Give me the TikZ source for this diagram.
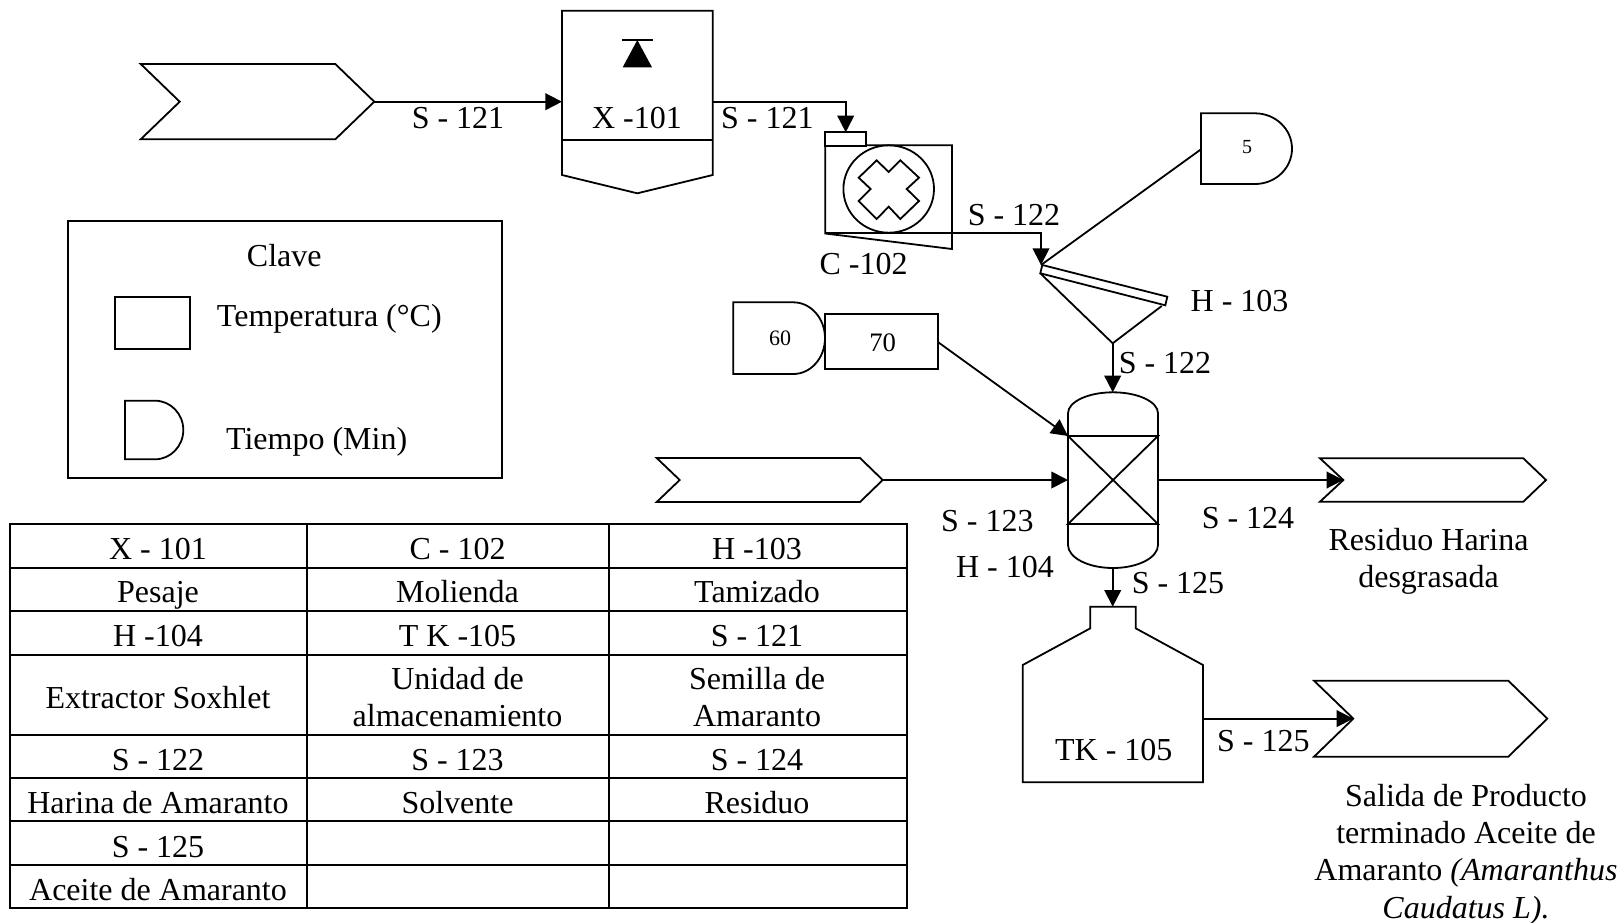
\documentclass[tikz,border=0pt]{standalone}
\usepackage{fontspec}
\setmainfont{Liberation Serif}
\usetikzlibrary{arrows.meta}
\tikzset{
  equip/.style={draw=black,line width=1.35pt,line join=miter,fill=white},
  thin equip/.style={draw=black,line width=1.35pt},
  feedline/.style={draw=black,line width=1.35pt},
  flow/.style={draw=black,line width=1.35pt,-{Triangle[length=12.5pt,width=12.5pt]},shorten >=0pt},
  lab/.style={inner sep=0pt,outer sep=0pt,anchor=base,font=\fontsize{24}{27.75}\selectfont,align=center},
  small/.style={inner sep=0pt,outer sep=0pt,anchor=base},
  grid line/.style={draw=black,line width=1.6pt},
}
\begin{document}
\begin{tikzpicture}[x=0.75pt,y=-0.75pt]
\useasboundingbox (0,0) rectangle (1624,922);

% ---- named ports
\coordinate (feedAtip) at (374.3,101.7);
\coordinate (xIn) at (562,101.7);
\coordinate (xOut) at (712.7,101.7);
\coordinate (millIn) at (845.7,132.3);
\coordinate (millOut) at (952,233.3);
\coordinate (sieveIn) at (1041,265);
\coordinate (timeFiveOut) at (1201,149.3);
\coordinate (funnelTip) at (1112.7,343.3);
\coordinate (vesselTop) at (1112.7,392.3);
\coordinate (tempOut) at (938.3,342.3);
\coordinate (vesselCorner) at (1068,436);
\coordinate (feedBtip) at (882.7,480);
\coordinate (vesselL) at (1068,480);
\coordinate (vesselR) at (1158,480);
\coordinate (exitCnotch) at (1343.3,480);
\coordinate (vesselBot) at (1112.7,568);
\coordinate (tankTop) at (1112.7,606.7);
\coordinate (tankOut) at (1203,718.6);
\coordinate (exitDnotch) at (1353.3,718.6);

% ---- feed and exit chevrons
\draw[equip] (140.7,64) -- (335.3,64) -- (feedAtip) -- (335.3,139.3) -- (140.7,139.3) -- (179.7,101.7) -- cycle;
\draw[equip] (656.7,458) -- (860,458) -- (feedBtip) -- (860,502) -- (656.7,502) -- (679.7,480) -- cycle;
\draw[equip] (1320,458.3) -- (1523.3,458.3) -- (1546,480) -- (1523.3,501.7) -- (1320,501.7) -- (exitCnotch) -- cycle;
\draw[equip] (1314,680.7) -- (1508.3,680.7) -- (1547.3,718.6) -- (1508.3,756.7) -- (1314,756.7) -- (exitDnotch) -- cycle;

% ---- X-101 scale
\draw[equip] (562,10.7) -- (712.7,10.7) -- (712.7,175) -- (637.3,193.3) -- (562,175) -- cycle;
\draw[thin equip] (562,140) -- (712.7,140);
\draw[thin equip] (621.7,40) -- (653,40);
\fill[black] (637.3,40) -- (652,67.3) -- (622.7,67.3) -- cycle;

% ---- C-102 mill
\draw[equip] (825.3,233.5) -- (825.3,145.3) -- (952,145.3) -- (952,249) -- cycle;
\draw[thin equip] (825.3,233.3) -- (952,233.3);
\draw[equip] (825.3,132.3) rectangle (866.3,145.8);
\draw[thin equip] (888.7,189) ellipse (45.3 and 43.7);
\draw[thin equip,xshift=520*0.75pt] (1070/3,481/3) -- (1106/3,516/3) -- (1141/3,481/3) -- (1197/3,533/3) -- (1160/3,567/3) -- (1197/3,603/3) -- (1141/3,657/3) -- (1106/3,620/3) -- (1070/3,657/3) -- (1016/3,603/3) -- (1052/3,567/3) -- (1016/3,533/3) -- cycle;

% ---- H-103 sieve
\draw[thin equip] (1040.3,273.3) -- (funnelTip) -- (1161.7,306);
\draw[equip] (1042.3,265) -- (1167.3,296.7) -- (1165.3,305.3) -- (1040.3,273.3) -- cycle;

% ---- time and temperature tags
\draw[equip] (1201,113.3) -- (1255,113.3) arc (270:450:37 and 35.35) -- (1201,184) -- cycle;
\draw[equip] (733.3,302.3) -- (793.3,302.3) arc (270:450:31.7 and 35.85) -- (733.3,374) -- cycle;
\draw[equip] (825,314.3) rectangle (938.3,369.3);

% ---- H-104 extractor
\draw[equip] (1068,413.3) arc (180:360:45 and 21) -- (1158,545) arc (0:180:45 and 23) -- cycle;
\draw[thin equip] (1068,436) -- (1158,436) -- (1068,524) -- (1158,524) -- cycle;

% ---- TK-105 tank
\draw[equip] (1090.3,606.7) -- (1135.7,606.7) -- (1135.7,628.3) -- (1203,665) -- (1203,782.3) -- (1022.7,782.3) -- (1022.7,665) -- (1090.3,628.3) -- cycle;

% ---- connectors
\draw[flow] (feedAtip) -- (xIn);
\draw[flow] (xOut) -| (millIn);
\draw[feedline] (timeFiveOut) -- (sieveIn);
\draw[flow] (millOut) -| (sieveIn);
\draw[flow] (funnelTip) -- (vesselTop);
\draw[flow] (tempOut) -- (vesselCorner);
\draw[flow] (feedBtip) -- (vesselL);
\draw[flow] (vesselR) -- (exitCnotch);
\draw[flow] (vesselBot) -- (tankTop);
\draw[flow] (tankOut) -- (exitDnotch);

% ---- labels
\node[lab] (l1) at (458,128.8) {S - 121};
\node[lab] (l2) at (637,128.8) {X -101};
\node[lab] (l3) at (767.3,128.8) {S - 121};
\node[lab] (l4) at (863.6,274.5) {C -102};
\node[lab] (l5) at (1014,225.5) {S - 122};
\node[lab] (l6) at (1239.6,311) {H - 103};
\node[lab] (l7) at (1165,373.8) {S - 122};
\node[lab] (l8) at (987.3,531.5) {S - 123};
\node[lab] (l9) at (1005,577.7) {H - 104};
\node[lab] (l10) at (1248,528.7) {S - 124};
\node[lab] (l11) at (1178,593) {S - 125};
\node[lab] (l12) at (1113.8,760.5) {TK - 105};
\node[lab] (l13) at (1263.3,751.5) {S - 125};
\node[lab] (l14) at (1428.5,587.7) {Residuo Harina\\desgrasada};
\node[lab,font=\fontsize{24}{28}\selectfont] (l15) at (1466,918) {Salida de Producto\\terminado Aceite de\\Amaranto {\itshape (Amaranthus}\\{\itshape Caudatus L).}};
\node[small,font=\fontsize{15}{18}\selectfont] (t5) at (1247,153.5) {5};
\node[small,font=\fontsize{16.5}{20}\selectfont] (t60) at (780,345) {60};
\node[small,font=\fontsize{20}{24}\selectfont] (t70) at (882.7,351) {70};

% ---- legend
\draw[grid line,line width=1.25pt] (67.7,220.7) rectangle (502.3,478.3);
\node[lab] (kTitle) at (284.3,266.5) {Clave};
\draw[equip] (115,297) rectangle (189.7,349.3);
\node[lab] (kTemp) at (329.3,326.3) {Temperatura (°C)};
\draw[equip] (125,400.7) -- (155,400.7) arc (270:450:28.3 and 29.3) -- (125,459.3) -- cycle;
\node[lab] (kTime) at (316.7,449.2) {Tiempo (Min)};

% ---- table
\draw[grid line] (10,524) rectangle (907,907.7);
\foreach \yy in {568,610.7,654.7,735,778,821,864.7}
  \draw[grid line] (10,\yy) -- (907,\yy);
\foreach \xx in {306.7,608.7}
  \draw[grid line] (\xx,524) -- (\xx,907.7);

\node[lab] (a1) at (158,559) {X - 101};
\node[lab] (b1) at (457.5,559) {C - 102};
\node[lab] (c1) at (757,559) {H -103};
\node[lab] (a2) at (158,602.3) {Pesaje};
\node[lab] (b2) at (457.5,602.3) {Molienda};
\node[lab] (c2) at (757,602.3) {Tamizado};
\node[lab] (a3) at (158,646) {H -104};
\node[lab] (b3) at (457.5,646) {T K -105};
\node[lab] (c3) at (757,646) {S - 121};
\node[lab] (a4) at (158,708) {Extractor Soxhlet};
\node[lab] (b4) at (457.5,726) {Unidad de\\almacenamiento};
\node[lab] (c4) at (757,726) {Semilla de\\Amaranto};
\node[lab] (a5) at (158,770) {S - 122};
\node[lab] (b5) at (457.5,770) {S - 123};
\node[lab] (c5) at (757,770) {S - 124};
\node[lab] (a6) at (158,813.5) {Harina de Amaranto};
\node[lab] (b6) at (457.5,813.5) {Solvente};
\node[lab] (c6) at (757,813.5) {Residuo};
\node[lab] (a7) at (158,857.5) {S - 125};
\node[lab] (a8) at (158,900) {Aceite de Amaranto};
\end{tikzpicture}
\end{document}
